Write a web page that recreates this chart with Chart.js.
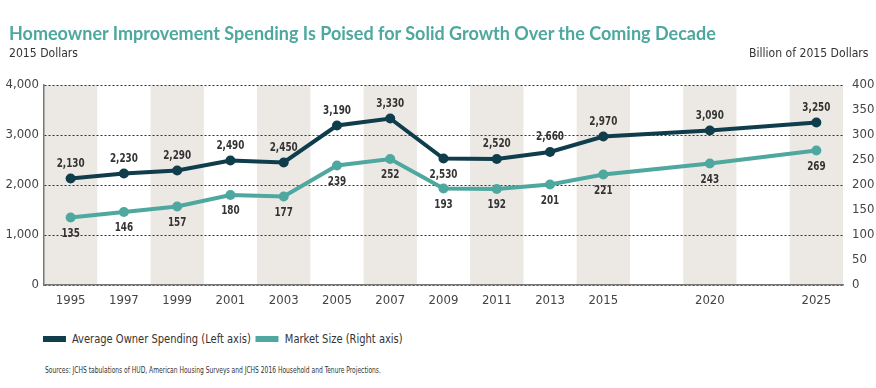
<!DOCTYPE html>
<html>
<head>
<meta charset="utf-8">
<script src="https://cdn.jsdelivr.net/npm/chart.js@4.4.1/dist/chart.umd.min.js"></script>
<style>
  body { margin: 0; width: 876px; height: 388px; background: #fff; position: relative; overflow: hidden;
         font-family: 'DejaVu Sans Condensed', sans-serif; color: #333; }
  #chart { position: absolute; left: 0; top: 0; }
  .txt { position: absolute; white-space: nowrap; }
  #title { left: 9px; top: 22px; font: bold 18px Lato, sans-serif; color: #4ea89f; }
  #unitL { left: 9px; top: 45px; font-size: 13px; transform: scaleX(0.93); transform-origin: left center; }
  #unitR { right: 8px; top: 45px; font-size: 13px; transform: scaleX(0.93); transform-origin: right center; }
  #legend { left: 43px; top: 331px; font-size: 13px; display: flex; align-items: center;
            transform: scaleX(0.85); transform-origin: left center; }
  #legend .box { display: inline-block; width: 27px; height: 6px; margin-right: 7px; }
  #legend .item { display: flex; align-items: center; margin-right: 6px; }
  #source { left: 45px; top: 364px; font-size: 9.5px; transform: scaleX(0.7); transform-origin: left center; }
</style>
</head>
<body>
<canvas id="chart" width="876" height="320"></canvas>
<div class="txt" id="title">Homeowner Improvement Spending Is Poised for Solid Growth Over the Coming Decade</div>
<div class="txt" id="unitL">2015 Dollars</div>
<div class="txt" id="unitR">Billion of 2015 Dollars</div>
<div class="txt" id="legend"></div>
<div class="txt" id="source">Sources: JCHS tabulations of HUD, American Housing Surveys and JCHS 2016 Household and Tenure Projections.</div>
<script>
// x slots (blank slots keep the uneven spacing after 2015)
const xSlots = ['1995', '1997', '1999', '2001', '2003', '2005', '2007', '2009', '2011', '2013', '2015', '', '2020', '', '2025'];
const years = ['1995', '1997', '1999', '2001', '2003', '2005', '2007', '2009', '2011', '2013', '2015', '2020', '2025'];
const ownerSpending = [2130, 2230, 2290, 2490, 2450, 3190, 3330, 2530, 2520, 2660, 2970, 3090, 3250];
const marketSize = [135, 146, 157, 180, 177, 239, 252, 193, 192, 201, 221, 243, 269];
const leftTicks = [0, 1000, 2000, 3000, 4000];
const rightTicks = [0, 50, 100, 150, 200, 250, 300, 350, 400];

// label placement per point
const ownerLabelPos = ['above', 'above', 'above', 'above', 'above', 'above', 'above', 'below', 'above', 'above', 'above', 'above', 'above'];
const marketLabelPos = years.map(() => 'below');

const DARK = '#0f3d4c';
const TEAL = '#4ea89f';
const BAND = '#ece9e4';
const FONT = "'DejaVu Sans Condensed', sans-serif";

// shaded columns behind every other slot
const bandsPlugin = {
  id: 'bands',
  beforeDraw(chart) {
    const { ctx, chartArea, scales } = chart;
    const x = scales.x;
    const half = (x.getPixelForValue(1) - x.getPixelForValue(0)) / 2;
    ctx.save();
    ctx.fillStyle = BAND;
    for (let i = 0; i < xSlots.length; i += 2) {
      const c = x.getPixelForValue(i);
      ctx.fillRect(c - half, chartArea.top, half * 2, chartArea.bottom - chartArea.top);
    }
    ctx.restore();
  }
};

// value labels above / below points (squeezed to look condensed)
const labelsPlugin = {
  id: 'pointLabels',
  afterDatasetsDraw(chart) {
    const { ctx } = chart;
    chart.data.datasets.forEach((ds, di) => {
      const meta = chart.getDatasetMeta(di);
      meta.data.forEach((pt, i) => {
        const v = ds.data[i].y;
        const pos = ds.labelPos[i];
        const txt = di === 0 ? v.toLocaleString('en-US') : String(v);
        ctx.save();
        ctx.translate(pt.x, pos === 'above' ? pt.y - 15 : pt.y + 16);
        ctx.scale(0.82, 1);
        ctx.font = 'bold 12px ' + FONT;
        ctx.fillStyle = '#333';
        ctx.textAlign = 'center';
        ctx.textBaseline = 'middle';
        ctx.fillText(txt, 0, 0);
        ctx.restore();
      });
    });
  }
};

const chart = new Chart(document.getElementById('chart'), {
  type: 'line',
  data: {
    labels: xSlots,
    datasets: [
      {
        label: 'Average Owner Spending (Left axis)',
        data: years.map((yr, i) => ({ x: yr, y: ownerSpending[i] })),
        labelPos: ownerLabelPos,
        yAxisID: 'y',
        borderColor: DARK,
        backgroundColor: DARK,
        pointBackgroundColor: DARK,
        borderWidth: 4,
        pointRadius: 5,
        pointBorderWidth: 0,
        tension: 0,
      },
      {
        label: 'Market Size (Right axis)',
        data: years.map((yr, i) => ({ x: yr, y: marketSize[i] })),
        labelPos: marketLabelPos,
        yAxisID: 'y1',
        borderColor: TEAL,
        backgroundColor: TEAL,
        pointBackgroundColor: TEAL,
        borderWidth: 4,
        pointRadius: 5,
        pointBorderWidth: 0,
        tension: 0,
      }
    ]
  },
  options: {
    responsive: false,
    animation: false,
    devicePixelRatio: 1,
    layout: { padding: { top: 85, left: 0, right: 0, bottom: 0 } },
    plugins: {
      legend: { display: false },
      tooltip: { enabled: false },
    },
    scales: {
      x: {
        type: 'category',
        offset: true,
        grid: { display: false, drawTicks: false },
        border: { display: true, color: '#777', width: 1.5 },
        ticks: { autoSkip: false, maxRotation: 0, padding: 8, color: '#444', font: { family: FONT, size: 13 } },
        afterFit: (s) => { s.height = 35; },
      },
      y: {
        position: 'left',
        min: 0,
        max: 4000,
        afterBuildTicks: (s) => { s.ticks = leftTicks.map(v => ({ value: v })); },
        grid: { color: '#333', lineWidth: 1, drawTicks: false },
        border: { display: true, color: '#777', width: 1.5, dash: [2, 2] },
        ticks: {
          padding: 5, color: '#444', font: { family: FONT, size: 13 },
          callback: (v) => v.toLocaleString('en-US'),
        },
        afterFit: (s) => { s.width = 44; },
      },
      y1: {
        position: 'right',
        min: 0,
        max: 400,
        afterBuildTicks: (s) => { s.ticks = rightTicks.map(v => ({ value: v })); },
        grid: { display: false, drawTicks: false },
        border: { display: false },
        ticks: { padding: 9, color: '#444', font: { family: FONT, size: 13 } },
        afterFit: (s) => { s.width = 33; },
      }
    }
  },
  plugins: [bandsPlugin, labelsPlugin]
});

// legend built from the dataset definitions
const legend = document.getElementById('legend');
chart.data.datasets.forEach(ds => {
  const item = document.createElement('span');
  item.className = 'item';
  item.innerHTML = '<span class="box" style="background:' + ds.borderColor + '"></span>' + ds.label;
  legend.appendChild(item);
});
</script>
</body>
</html>
